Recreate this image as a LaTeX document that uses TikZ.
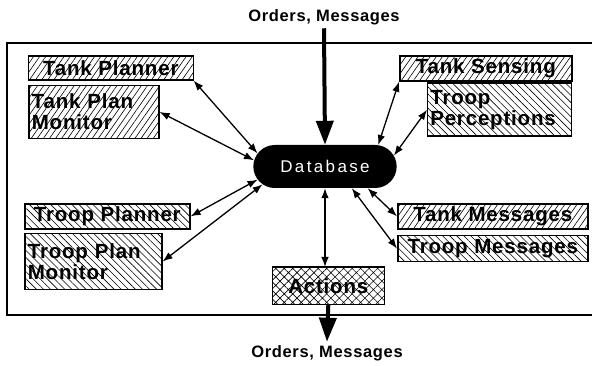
\documentclass[tikz,border=0pt]{standalone}
\usepackage{fontspec}
\setmainfont{Liberation Sans}
\newfontfamily\boxfont[LetterSpace=4]{Liberation Sans Bold}
\newfontfamily\dbfont[LetterSpace=14]{Liberation Sans}
\usetikzlibrary{arrows.meta,patterns.meta,positioning,shapes.misc}
\tikzset{
  link/.style={{Latex[length=10pt,width=7.5pt]}-{Latex[length=10pt,width=7.5pt]}, line width=1.3pt},
  flow/.style={-{Triangle[length=24pt,width=17pt]}, line width=4pt},
  module/.style={draw, line width=1.6pt, inner sep=3pt, font=\boxfont\fontsize{20.5}{21}\selectfont, anchor=north west},
  tank/.style={module, pattern={Lines[angle=55,distance=5pt,line width=0.6pt]}},
  troop/.style={module, pattern={Lines[angle=-45,distance=5pt,line width=0.6pt]}},
  title/.style={font=\boxfont\fontsize{16.5}{16.5}\selectfont}
}
\begin{document}
\begin{tikzpicture}[x=1pt, y=-1pt]
	\useasboundingbox (0,0) rectangle (592,366);
	\draw [line width=2.5pt] (7,43) rectangle (600,315);

	\node (ordersin) [title] at (324,17) {Orders, Messages};
	\node (ordersout) [title] at (327,353) {Orders, Messages};

	\node (db) [rounded rectangle, fill=black, minimum width=150pt, minimum height=43pt,
		text=white, font=\dbfont\fontsize{17}{17}\selectfont] at (325,166.5) {Database};

	% tank side, top left
	\node (tplanner) [tank, minimum width=165pt, minimum height=24pt] at (28,56) {Tank Planner};
	\node (tmonitor) [tank, minimum width=130pt, minimum height=53pt, text width=124pt, align=left,
		below=4pt of tplanner.south west, anchor=north west] {Tank Plan\\Monitor};
	% sensing, top right
	\node (tsensing) [tank, minimum width=172pt, minimum height=25pt] at (399,55) {Tank Sensing};
	\node (rpercept) [troop, minimum width=144pt, minimum height=53pt, text width=138pt, align=left] at (427,83) {Troop\\Perceptions};
	% troop side, bottom left
	\node (rplanner) [troop, minimum width=165pt, minimum height=25pt] at (24,203) {Troop Planner};
	\node (rmonitor) [troop, minimum width=137pt, minimum height=56pt, text width=131pt, align=left,
		below=3pt of rplanner.south west, anchor=north west] {Troop Plan\\Monitor};
	% messages, bottom right
	\node (tmsg) [tank, minimum width=190pt, minimum height=24pt] at (397,203) {Tank Messages};
	\node (rmsg) [troop, minimum width=190pt, minimum height=26pt,
		below=5pt of tmsg.south west, anchor=north west] {Troop Messages};
	\node (actions) [module, pattern={Hatch[angle=45,distance=6pt,line width=0.6pt]},
		minimum width=112pt, minimum height=37pt] at (272,267) {Actions};

	\draw [link] (tplanner.south east) -- (db.169);
	\draw [link] (tmonitor.east) -- (db.175);
	\draw [link] (rplanner.east) -- (db.191);
	\draw [link] (rmonitor.east) -- (db.196);
	\draw [link] (tsensing.south west) -- (db.22);
	\draw [link] (rpercept.west) -- (db.9);
	\draw [link] (tmsg.west) -- (db.333);
	\draw [link] (rmsg.west) -- (db.321);
	\draw [link] (actions.north -| db.south) -- (db.south);

	\draw [flow] (ordersin.south) -- (db.north);
	\draw [flow] (actions.south) -- (ordersout.north);
\end{tikzpicture}
\end{document}
